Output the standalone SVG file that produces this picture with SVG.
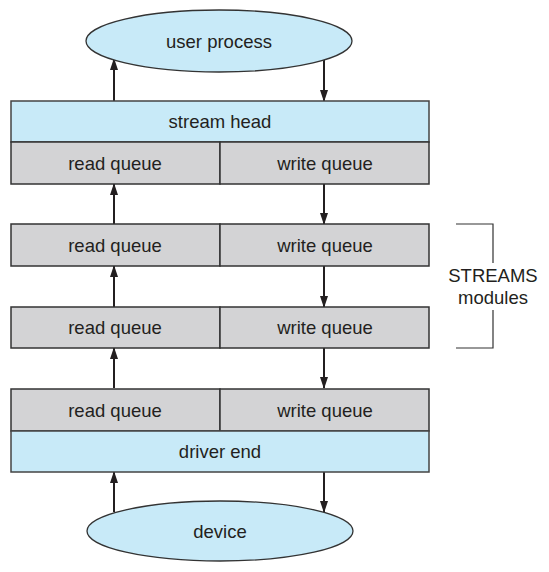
<svg xmlns="http://www.w3.org/2000/svg" width="549" height="572" viewBox="0 0 549 572">
<style>
text{font-family:"Liberation Sans",Arial,sans-serif;font-size:18.5px;fill:#231f20;text-anchor:middle}
.blue{fill:#c8eaf8;stroke:#444;stroke-width:1.5}
.gray{fill:#d3d3d5;stroke:#333;stroke-width:1.5}
.ell{fill:#c8eaf8;stroke:#333;stroke-width:1.3}
.arr{stroke:#231f20;stroke-width:2;fill:none;marker-end:url(#ah)}
.br{stroke:#333;stroke-width:1.2;fill:none}
</style>
<defs>
<marker id="ah" viewBox="0 0 12 8" refX="11" refY="4" markerWidth="12" markerHeight="8" orient="auto" markerUnits="userSpaceOnUse">
<path d="M0,0 L12,4 L0,8 Z" fill="#231f20"/>
</marker>
</defs>
<g id="connectors">
<path class="arr" d="M114,101 V59"/>
<path class="arr" d="M324,60 V101"/>
<path class="arr" d="M114,224 V184"/>
<path class="arr" d="M324,184 V224"/>
<path class="arr" d="M114,307 V266"/>
<path class="arr" d="M324,266 V307"/>
<path class="arr" d="M114,388 V348"/>
<path class="arr" d="M324,348 V388"/>
<path class="arr" d="M114,512 V472"/>
<path class="arr" d="M324,472 V512"/>
</g>
<g id="user-process">
<ellipse class="ell" cx="219" cy="41" rx="133" ry="31"/>
<text x="219" y="48">user process</text>
</g>
<g id="stream-head">
<rect class="blue" x="11" y="101" width="418" height="41"/>
<text x="220" y="128">stream head</text>
<rect class="gray" x="11" y="142" width="209" height="42"/>
<rect class="gray" x="220" y="142" width="209" height="42"/>
<text x="115" y="170">read queue</text>
<text x="325" y="170">write queue</text>
</g>
<g id="module1">
<rect class="gray" x="11" y="224" width="209" height="42"/>
<rect class="gray" x="220" y="224" width="209" height="42"/>
<text x="115" y="252">read queue</text>
<text x="325" y="252">write queue</text>
</g>
<g id="module2">
<rect class="gray" x="11" y="307" width="209" height="41"/>
<rect class="gray" x="220" y="307" width="209" height="41"/>
<text x="115" y="334">read queue</text>
<text x="325" y="334">write queue</text>
</g>
<g id="driver-end">
<rect class="gray" x="11" y="389" width="209" height="42"/>
<rect class="gray" x="220" y="389" width="209" height="42"/>
<text x="115" y="417">read queue</text>
<text x="325" y="417">write queue</text>
<rect class="blue" x="11" y="431" width="418" height="41"/>
<text x="220" y="458">driver end</text>
</g>
<g id="device">
<ellipse class="ell" cx="220" cy="531" rx="133" ry="30"/>
<text x="220" y="538">device</text>
</g>
<g id="streams-modules">
<path class="br" d="M456,224 H493 V263 M493,310 V348 H456"/>
<text x="493" y="282">STREAMS</text>
<text x="493" y="304">modules</text>
</g>
</svg>
